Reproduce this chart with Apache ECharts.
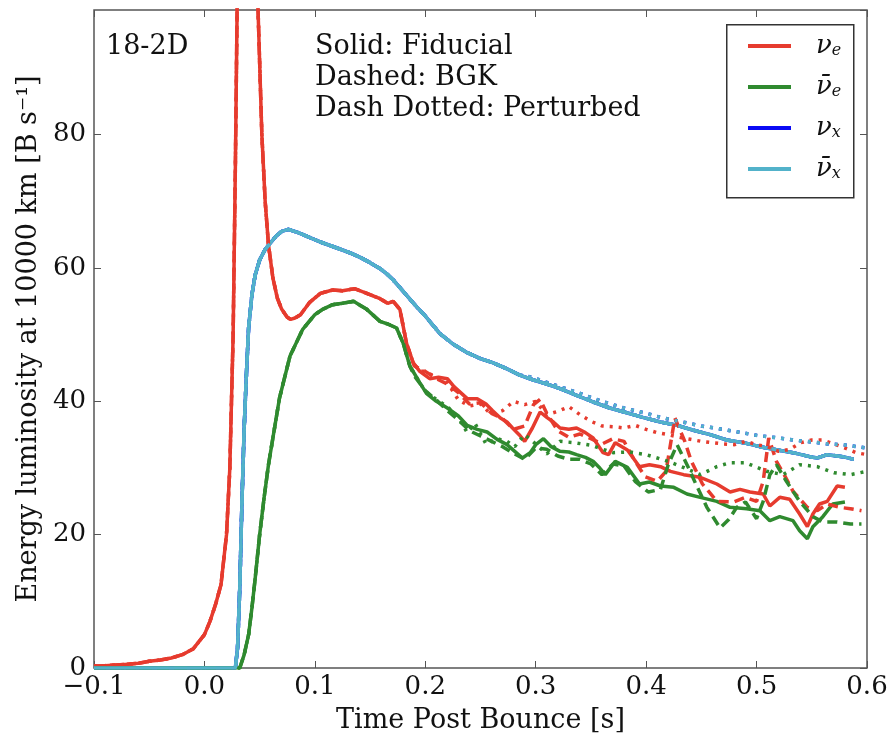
<!DOCTYPE html>
<html><head><meta charset="utf-8">
<script src="https://cdn.jsdelivr.net/npm/echarts@6/dist/echarts.min.js"></script>
<style>html,body{margin:0;padding:0;background:#fff}#c{width:892px;height:739px}</style>
</head><body><div id="c"></div>
<script>
// ---- data (time [s], luminosity [B/s]) ----
const nueFiducial = [[-0.1,0.3],[-0.09,0.35],[-0.08,0.45],[-0.07,0.55],[-0.06,0.7],[-0.05,1.0],[-0.04,1.2],[-0.03,1.5],[-0.02,2.0],[-0.01,2.9],[0.0,5.0],[0.005,7.0],[0.01,9.5],[0.015,12.5],[0.02,20],[0.023,30],[0.026,50],[0.028,75],[0.03,105],[0.035,150],[0.04,165],[0.045,135],[0.0485,99],[0.052,80],[0.055,70],[0.058,63.5],[0.062,58.5],[0.066,55.5],[0.07,53.8],[0.075,52.6],[0.078,52.3],[0.082,52.5],[0.087,53.0],[0.095,54.8],[0.105,56.2],[0.116,56.7],[0.125,56.6],[0.136,56.9],[0.147,56.2],[0.159,55.4],[0.166,54.7],[0.171,55.0],[0.177,53.8],[0.183,48.7],[0.189,45.8],[0.195,44.5],[0.204,43.4],[0.212,43.6],[0.22,43.4],[0.226,42.2],[0.232,41.3],[0.238,40.4],[0.247,40.4],[0.255,39.6],[0.261,38.6],[0.268,37.5],[0.274,36.9],[0.279,36.0],[0.285,35.0],[0.29,34.0],[0.297,36.0],[0.304,38.4],[0.31,37.6],[0.316,36.9],[0.322,36.0],[0.33,35.8],[0.337,36.0],[0.345,35.3],[0.352,34.5],[0.361,32.3],[0.366,32.0],[0.372,33.8],[0.383,32.7],[0.394,30.2],[0.403,30.5],[0.413,30.2],[0.422,29.5],[0.434,29.0],[0.449,28.6],[0.464,27.6],[0.476,26.4],[0.485,26.8],[0.494,26.4],[0.506,26.1],[0.512,24.3],[0.521,25.6],[0.53,25.3],[0.539,23.1],[0.546,21.2],[0.551,23.1],[0.557,24.6],[0.564,25.0],[0.573,27.3],[0.58,27.1]];
const nueBGKLate = [[0.19,45.3],[0.2,44.5],[0.21,43.4],[0.22,42.6],[0.23,41.3],[0.24,39.6],[0.25,39.8],[0.26,38.2],[0.27,37.4],[0.28,35.8],[0.29,36.3],[0.298,39.5],[0.304,40.3],[0.31,38.2],[0.32,35.6],[0.33,34.6],[0.34,35.1],[0.35,34.4],[0.36,33.6],[0.37,34.4],[0.38,34.0],[0.39,31.0],[0.399,28.7],[0.41,28.0],[0.418,29.5],[0.426,37.5],[0.435,34.0],[0.441,31.0],[0.451,27.6],[0.464,25.0],[0.479,24.9],[0.49,25.6],[0.5,25.0],[0.506,28.0],[0.511,34.5],[0.518,31.0],[0.525,29.0],[0.533,26.5],[0.546,24.1],[0.555,23.6],[0.564,24.6],[0.575,24.1],[0.585,23.9],[0.595,23.6]];
const nuePerturbedLate = [[0.2,44.5],[0.21,43.6],[0.22,42.8],[0.23,40.2],[0.24,39.3],[0.25,39.6],[0.26,38.0],[0.27,38.6],[0.28,40.0],[0.29,39.5],[0.3,40.0],[0.31,38.0],[0.32,38.5],[0.33,39.2],[0.34,38.0],[0.35,37.0],[0.36,36.3],[0.37,36.2],[0.38,36.0],[0.39,36.4],[0.4,35.8],[0.41,35.3],[0.42,35.0],[0.43,34.6],[0.44,34.3],[0.45,34.0],[0.46,33.8],[0.47,33.6],[0.48,33.5],[0.49,34.0],[0.5,33.5],[0.51,33.2],[0.52,32.5],[0.53,32.8],[0.54,33.8],[0.55,34.2],[0.56,34.2],[0.57,33.6],[0.58,33.0],[0.59,32.3],[0.6,32.0]];

const anueFiducial = [[-0.1,0],[0.032,0],[0.036,2],[0.04,5],[0.043,9],[0.046,13.5],[0.05,20],[0.054,25.5],[0.058,30.5],[0.062,34.5],[0.068,40.5],[0.0775,46.8],[0.089,50.8],[0.1,53],[0.107,53.8],[0.116,54.5],[0.125,54.7],[0.135,55.0],[0.147,53.8],[0.159,52.0],[0.166,51.6],[0.174,51.0],[0.18,48.7],[0.186,45.3],[0.195,42.8],[0.201,41.2],[0.21,40.0],[0.22,39.0],[0.23,37.8],[0.238,36.4],[0.247,35.8],[0.256,35.4],[0.265,34.3],[0.274,33.5],[0.281,32.5],[0.288,31.5],[0.295,32.3],[0.3,33.5],[0.307,34.4],[0.314,33.2],[0.322,32.5],[0.33,32.4],[0.337,32.0],[0.345,31.6],[0.352,31.0],[0.358,30.0],[0.363,29.0],[0.372,31.0],[0.383,30.1],[0.394,27.6],[0.403,27.9],[0.413,27.3],[0.425,27.1],[0.437,26.1],[0.449,25.6],[0.464,25.0],[0.476,24.1],[0.491,23.9],[0.503,23.6],[0.512,22.1],[0.521,22.7],[0.533,22.1],[0.539,20.6],[0.546,19.4],[0.551,21.2],[0.56,22.7],[0.569,24.6],[0.58,24.9]];
const anueBGKLate = [[0.19,43.8],[0.2,41.6],[0.21,40.2],[0.22,38.6],[0.23,37.2],[0.24,35.6],[0.25,34.8],[0.26,34.0],[0.27,33.2],[0.28,32.2],[0.29,31.3],[0.3,33.0],[0.31,32.8],[0.32,31.8],[0.33,31.3],[0.34,31.3],[0.35,30.6],[0.36,29.0],[0.37,30.6],[0.38,30.3],[0.39,28.0],[0.402,26.4],[0.413,26.8],[0.42,30.5],[0.428,33.5],[0.437,30.5],[0.445,27.6],[0.455,24.1],[0.467,21.0],[0.475,22.3],[0.482,24.1],[0.49,24.9],[0.5,22.4],[0.506,25.0],[0.512,29.0],[0.518,30.5],[0.527,28.0],[0.539,25.0],[0.551,22.7],[0.56,21.9],[0.573,21.9],[0.585,21.6],[0.595,21.6]];
const anuePerturbedLate = [[0.2,41.5],[0.21,40.3],[0.22,39.2],[0.23,37.6],[0.238,35.3],[0.245,36.7],[0.255,33.6],[0.265,34.4],[0.274,34.0],[0.281,33.2],[0.29,35.0],[0.3,33.6],[0.31,32.1],[0.322,34.0],[0.335,33.8],[0.35,33.4],[0.37,32.3],[0.385,32.4],[0.4,32.0],[0.42,31.0],[0.435,30.0],[0.449,29.0],[0.464,30.2],[0.476,30.8],[0.49,30.8],[0.509,29.5],[0.524,29.0],[0.539,30.5],[0.555,30.2],[0.57,29.3],[0.585,29.0],[0.6,29.5]];

// nu_x and anti-nu_x are indistinguishable in the reference
const anuxFiducial = [[-0.1,0],[0.028,0],[0.030,3],[0.032,12],[0.034,25],[0.036,36],[0.038,44],[0.04,51],[0.043,56],[0.046,59],[0.05,61.2],[0.055,62.8],[0.06,63.8],[0.065,64.8],[0.07,65.5],[0.076,65.8],[0.085,65.3],[0.095,64.6],[0.105,63.9],[0.115,63.3],[0.125,62.7],[0.133,62.2],[0.141,61.6],[0.15,60.8],[0.16,59.8],[0.166,59.0],[0.171,58.2],[0.18,56.5],[0.192,54.2],[0.2,52.8],[0.213,50.2],[0.225,48.6],[0.238,47.3],[0.25,46.4],[0.261,45.8],[0.275,44.8],[0.286,43.9],[0.298,43.2],[0.31,42.6],[0.322,41.9],[0.337,40.9],[0.352,39.9],[0.367,39.0],[0.38,38.4],[0.397,37.6],[0.413,36.9],[0.428,36.4],[0.442,35.7],[0.458,35.0],[0.473,34.2],[0.488,33.8],[0.503,33.2],[0.519,32.7],[0.533,32.3],[0.548,31.7],[0.555,31.5],[0.564,32.0],[0.578,31.7],[0.588,31.3]];
const anuxPerturbedLate = [[0.29,43.9],[0.3,43.4],[0.32,42.3],[0.34,41.2],[0.36,40.0],[0.38,39.0],[0.4,38.2],[0.413,37.6],[0.43,37.0],[0.45,36.3],[0.473,35.7],[0.5,34.9],[0.52,34.5],[0.533,34.2],[0.55,33.9],[0.565,33.6],[0.578,33.5],[0.6,33.0]];

const xTickValues = [-0.1,0.0,0.1,0.2,0.3,0.4,0.5,0.6];
const yTickValues = [0,20,40,60,80];

// dashed/dotted runs overlap the fiducial run at early times
function withEarly(solid, late){ return solid.filter(p => p[0] < late[0][0]).concat(late); }

const RED='#e63b2e', GREEN='#2f8a2f', BLUE='#0a0af5', CYAN='#52b2ca';
const FONT='"DejaVu Serif", serif';
const DASH=[10,6], DOT=[3,6];
function line(name, data, color, type, width){
  return {type:'line', name, data, symbol:'none', showSymbol:false, animation:false, clip:true,
    lineStyle:{color, width, type}, itemStyle:{color}, emphasis:{disabled:true}};
}
const series = [
  line('nu_x', anuxFiducial, BLUE, 'solid', 3.5),
  line('nu_x BGK', anuxFiducial, BLUE, DASH, 3.5),
  line('nu_x Pert', withEarly(anuxFiducial, anuxPerturbedLate), BLUE, DOT, 3.5),
  line('nu_e', nueFiducial, RED, 'solid', 3.5),
  line('nubar_e', anueFiducial, GREEN, 'solid', 3.5),
  line('nubar_x', anuxFiducial, CYAN, 'solid', 3.5),
  line('nu_e BGK', withEarly(nueFiducial, nueBGKLate), RED, DASH, 3.5),
  line('nubar_e BGK', withEarly(anueFiducial, anueBGKLate), GREEN, DASH, 3.5),
  line('nubar_x BGK', anuxFiducial, CYAN, DASH, 3.5),
  line('nu_e Pert', withEarly(nueFiducial, nuePerturbedLate), RED, DOT, 3.5),
  line('nubar_e Pert', withEarly(anueFiducial, anuePerturbedLate), GREEN, DOT, 3.5),
  line('nubar_x Pert', withEarly(anuxFiducial, anuxPerturbedLate), CYAN, DOT, 3.5)
];
const legendText = {'nu_e':'{v|ν}{s|e}', 'nubar_e':'{v|ν̄}{s|e}', 'nu_x':'{v|ν}{s|x}', 'nubar_x':'{v|ν̄}{s|x}'};

const chart = echarts.init(document.getElementById('c'), null, {renderer:'canvas'});
const tickFmt = v => { const r = Math.round(v*10)/10; return r.toFixed(1).replace('-', '\u2212'); };
const tickStyle = {show:true, inside:true, length:7, lineStyle:{color:'#555', width:1}};
chart.setOption({
  backgroundColor:'#fff',
  animation:false,
  grid:{left:94, right:25, top:10, bottom:63, show:true, borderColor:'#555', borderWidth:1.5, backgroundColor:'transparent'},
  xAxis:[
    {type:'value', min:-0.1, max:0.6, interval:0.1, position:'bottom',
     name:'Time Post Bounce [s]', nameLocation:'middle', nameGap:39,
     nameTextStyle:{fontFamily:FONT, fontSize:27, color:'#111'},
     axisLine:{show:false, onZero:false}, splitLine:{show:false}, axisTick:tickStyle,
     axisLabel:{fontFamily:FONT, fontSize:26, color:'#111', margin:6, formatter:tickFmt}},
    {type:'value', min:-0.1, max:0.6, interval:0.1, position:'top',
     axisLine:{show:false, onZero:false}, splitLine:{show:false}, axisLabel:{show:false}, axisTick:tickStyle}
  ],
  yAxis:[
    {type:'value', min:0, max:98.7, interval:20, position:'left',
     name:'Energy luminosity at 10000 km [B s\u207B\u00B9]', nameLocation:'middle', nameGap:50,
     nameTextStyle:{fontFamily:FONT, fontSize:27, color:'#111'},
     axisLine:{show:false, onZero:false}, splitLine:{show:false}, axisTick:tickStyle,
     axisLabel:{fontFamily:FONT, fontSize:26, color:'#111', margin:8, showMaxLabel:false,
       formatter: v => (yTickValues.indexOf(Math.round(v)) >= 0 && Math.abs(v-Math.round(v))<1e-6) ? String(Math.round(v)) : ''}},
    {type:'value', min:0, max:98.7, interval:20, position:'right',
     axisLine:{show:false, onZero:false}, splitLine:{show:false}, axisLabel:{show:false}, axisTick:tickStyle}
  ],
  legend:{
    data:['nu_e','nubar_e','nu_x','nubar_x'], orient:'vertical', left:743, top:28,
    icon:'rect', itemWidth:43, itemHeight:4, itemGap:15, selectedMode:false,
    formatter: n => legendText[n],
    textStyle:{fontFamily:FONT, color:'#111', rich:{
      v:{fontFamily:FONT, fontStyle:'italic', fontSize:26, lineHeight:34, padding:[0,0,0,20]},
      s:{fontFamily:FONT, fontStyle:'italic', fontSize:16, lineHeight:34, padding:[10,0,0,0]}
    }}
  },
  graphic:[
    {type:'rect', left:726, top:24, shape:{width:127, height:173}, style:{fill:'#fff', stroke:'#333', lineWidth:1.5}, z:0, silent:true},
    {type:'text', left:106, top:33, style:{text:'18-2D', font:'27px '+FONT, fill:'#111'}},
    {type:'text', left:315, top:33, style:{text:'Solid: Fiducial', font:'27px '+FONT, fill:'#111'}},
    {type:'text', left:315, top:64, style:{text:'Dashed: BGK', font:'27px '+FONT, fill:'#111'}},
    {type:'text', left:315, top:95, style:{text:'Dash Dotted: Perturbed', font:'27px '+FONT, fill:'#111'}}
  ],
  series
});
</script></body></html>
